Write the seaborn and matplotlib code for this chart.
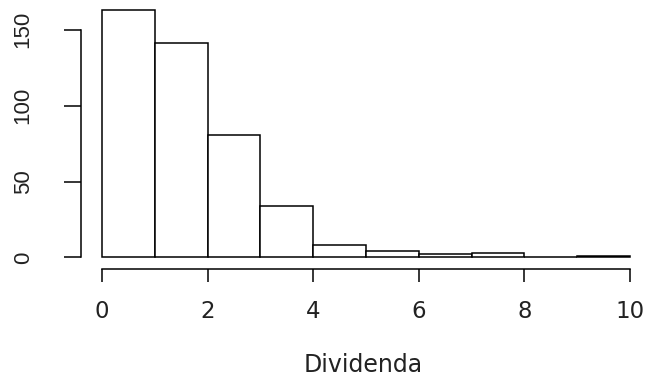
import matplotlib
matplotlib.use("Agg")
import matplotlib.pyplot as plt
import seaborn as sns
import numpy as np
import pandas as pd

# Data
bin_edges = [0, 1, 2, 3, 4, 5, 6, 7, 8, 9, 10]
bin_centers = [0.5, 1.5, 2.5, 3.5, 4.5, 5.5, 6.5, 7.5, 8.5, 9.5]
counts = [163, 141, 81, 34, 8, 4, 2, 3, 0, 1]
x_ticks = [0, 2, 4, 6, 8, 10]
y_ticks = [0, 50, 100, 150]
x_label = "Dividenda"

df = pd.DataFrame({"Dividenda": bin_centers, "count": counts})

sns.set_style("white")
plt.rcParams["font.family"] = ["DejaVu Sans"]

W, H = 648, 383
fig = plt.figure(figsize=(W / 100, H / 100), dpi=100)
left_px, right_px = 80.9, 651.1
bottom_px, top_px = 269.0, 0.0
ax = fig.add_axes([left_px / W, (H - bottom_px) / H,
                   (right_px - left_px) / W, (bottom_px - top_px) / H])

sns.histplot(data=df, x="Dividenda", weights="count", bins=bin_edges,
             stat="count", color="white", edgecolor="black", linewidth=1.1,
             alpha=1, ax=ax)

ax.set_xlim(-0.4, 10.4)
ax.set_ylim(-7.6, 169.6)
ax.set_facecolor("white")

for s in ["top", "right"]:
    ax.spines[s].set_visible(False)
ax.spines["left"].set_bounds(0, 150)
ax.spines["bottom"].set_bounds(0, 10)
for s in ["left", "bottom"]:
    ax.spines[s].set_linewidth(1.1)
    ax.spines[s].set_color("black")

ax.set_xticks(x_ticks)
ax.set_xticklabels([str(t) for t in x_ticks], fontfamily="DejaVu Sans",
                   fontsize=16.5)
ax.set_yticks(y_ticks)
ax.set_yticklabels([str(t) for t in y_ticks], rotation=90, va="center",
                   fontfamily="Liberation Sans", fontsize=16)
ax.tick_params(axis="x", bottom=True, length=9.4, width=1.1, color="black",
               direction="out", pad=13, labelcolor="#222222")
ax.tick_params(axis="y", left=True, length=12, width=1.1, color="black",
               direction="out", pad=22, labelcolor="#222222")
ax.set_xlabel("")
ax.set_ylabel("")
fig.text(363 / W, 1 - 365 / H, x_label, ha="center", va="center",
         fontsize=17, color="#222222", fontfamily="DejaVu Sans")

fig.savefig("out.png", dpi=100, facecolor="white")
